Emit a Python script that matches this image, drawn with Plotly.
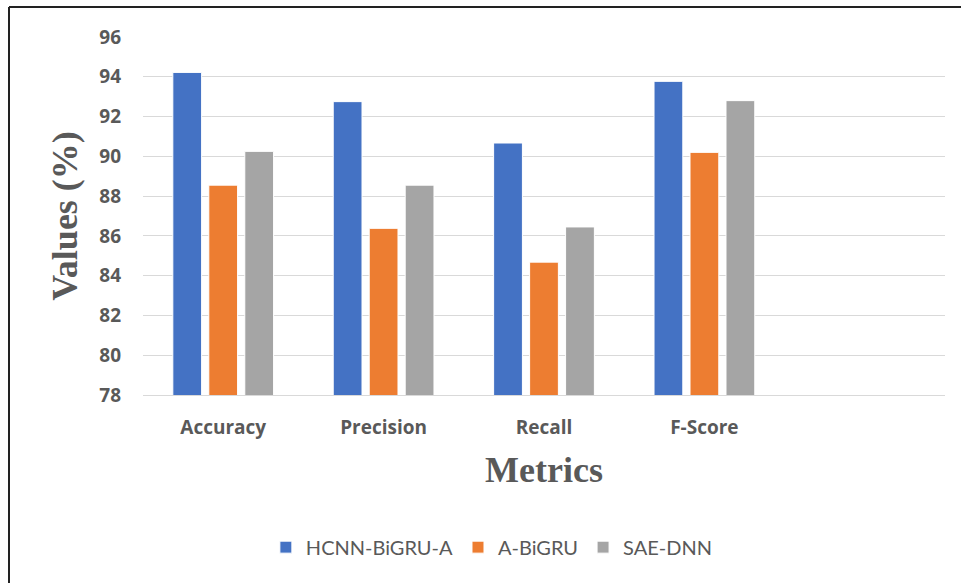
import plotly.graph_objects as go

metrics = ["Accuracy", "Precision", "Recall", "F-Score"]
hcnn_bigru_a = [94.22, 92.75, 90.67, 93.77]
a_bigru = [88.55, 86.38, 84.68, 90.20]
sae_dnn = [90.25, 88.55, 86.45, 92.80]
y_ticks = [78, 80, 82, 84, 86, 88, 90, 92, 94, 96]

series = [
    ("HCNN-BiGRU-A", hcnn_bigru_a, "#4472C4"),
    ("A-BiGRU", a_bigru, "#ED7D31"),
    ("SAE-DNN", sae_dnn, "#A5A5A5"),
]

W, H = 961, 583
L, R, T, B = 143, 16, 37, 188
pw, ph = W - L - R, H - T - B

x_pos = list(range(len(metrics)))

fig = go.Figure()
for name, vals, color in series:
    fig.add_trace(go.Bar(
        x=x_pos, y=vals, name=name,
        marker=dict(color=color, line=dict(color="white", width=1)),
    ))

gray = "#595959"
fig.update_layout(
    width=W, height=H,
    margin=dict(l=L, r=R, t=T, b=B),
    paper_bgcolor="white", plot_bgcolor="white",
    barmode="group", bargap=0.327, bargroupgap=0.2,
    showlegend=True,
    legend=dict(
        orientation="h", x=0.435, xanchor="center", y=-0.425, yanchor="middle",
        font=dict(family="Lato, Open Sans, sans-serif", size=20, color=gray),
        itemwidth=30, traceorder="normal",
    ),
    xaxis=dict(
        range=[-0.5, 4.5],
        tickmode="array", tickvals=x_pos, ticktext=metrics,
        tickfont=dict(family="Open Sans, sans-serif", size=19, color=gray, weight="bold"),
        showgrid=False, zeroline=False, showline=True,
        linecolor="#d9d9d9", linewidth=1, ticks="",
        ticklabelstandoff=15,
        title=dict(text="Metrics", standoff=18,
                   font=dict(family="Liberation Serif, Times New Roman, serif",
                             size=36, color=gray, weight="bold")),
    ),
    yaxis=dict(
        range=[78, 96],
        tickmode="array", tickvals=y_ticks,
        tickfont=dict(family="Open Sans, sans-serif", size=19, color=gray, weight="bold"),
        showgrid=True, gridcolor="#d9d9d9", gridwidth=1,
        zeroline=False, showline=False, ticks="",
        ticklabelstandoff=21,
        title=dict(text="Values (%)", standoff=10,
                   font=dict(family="Liberation Serif, Times New Roman, serif",
                             size=36, color=gray, weight="bold")),
    ),
)

# outer frame along the top and left edges of the page
x0 = (9 - L) / pw
y0 = (H - 7 - B) / ph
fig.add_shape(type="line", xref="paper", yref="paper",
              x0=x0, x1=(W + 5 - L) / pw, y0=y0, y1=y0,
              line=dict(color="#222222", width=2))
fig.add_shape(type="line", xref="paper", yref="paper",
              x0=x0, x1=x0, y0=y0, y1=(-5 - B) / ph,
              line=dict(color="#222222", width=2))

fig.write_html("out.html")
